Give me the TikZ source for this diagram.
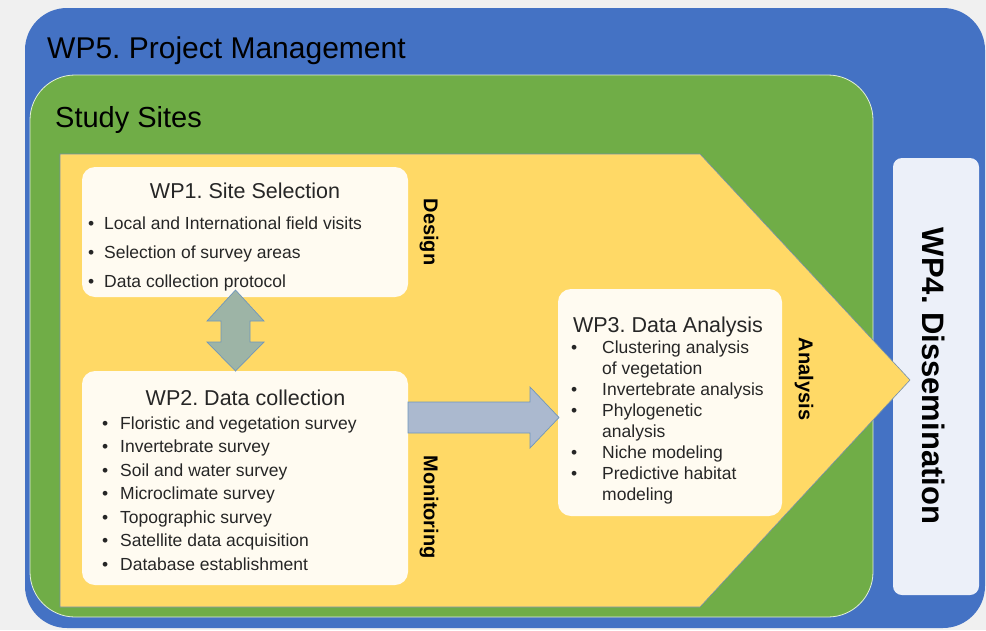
\documentclass[tikz,border=0pt]{standalone}
\usepackage{fontspec}
\setmainfont{Liberation Sans}
\frenchspacing
\definecolor{bgc}{HTML}{F0F0F0}
\definecolor{wpblue}{HTML}{4472C4}
\definecolor{wpgreen}{HTML}{70AD47}
\definecolor{wpyellow}{HTML}{FFD966}
\definecolor{boxfill}{HTML}{FFFBF1}
\definecolor{wp4fill}{HTML}{ECF0F9}
\definecolor{txt}{HTML}{262626}
\definecolor{dblfill}{HTML}{9DB4A6}
\definecolor{rarfill}{HTML}{ABB9CF}
\definecolor{arline}{HTML}{6F96BC}
\begin{document}
\begin{tikzpicture}[x=1pt,y=-1pt,
  wpbox/.style={draw=none,fill=boxfill,rounded corners=13},
  title/.style={font=\fontsize{21.5}{24}\selectfont,text=txt,inner sep=0,anchor=base},
  item/.style={font=\fontsize{17.5}{20}\selectfont,text=txt,inner sep=0,anchor=base west},
  vlabel/.style={font=\bfseries\fontsize{20}{24}\selectfont,rotate=-90,inner sep=0}]
\frenchspacing
\useasboundingbox (0,0) rectangle (986,630);
\fill[bgc] (0,0) rectangle (986,630);
% containers
\draw[fill=wpblue,draw=none,rounded corners=42] (25,8) rectangle (985,628);
\node[fill=wp4fill,rounded corners=9,minimum width=86,minimum height=437] (b4) at (936,376.5) {};
\draw[fill=wpgreen,draw=white!80!wpgreen,line width=0.8pt,rounded corners=45] (30,75) rectangle (873,617);
\draw[fill=wpyellow,draw=arline!70!gray,line width=0.6pt] (60,154) -- (700,154) -- (910,380) -- (700,607) -- (60,607) -- cycle;
\node[font=\fontsize{30}{34}\selectfont,anchor=base west,inner sep=0] (wp5) at (47,58) {WP5. Project Management};
\node[font=\fontsize{29}{33}\selectfont,anchor=base west,inner sep=0] (ss) at (55,127) {Study Sites};
% boxes
\node[wpbox,minimum width=326,minimum height=130] (b1) at (245,232) {};
\node[wpbox,minimum width=326,minimum height=214] (b2) at (245,478) {};
\node[wpbox,minimum width=224,minimum height=227] (b3) at (670,402.5) {};
% block arrows
\draw[fill=dblfill,draw=arline,line width=0.7pt,line join=miter]
  (235.5,290) -- (264,321) -- (250,321) -- (250,342) -- (264,342) -- (235.5,371)
  -- (207,342) -- (221,342) -- (221,321) -- (207,321) -- cycle;
\draw[fill=rarfill,draw=arline,line width=0.7pt]
  (408,402) -- (530,402) -- (530,387) -- (559,417.5) -- (530,448) -- (530,433) -- (408,433) -- cycle;
% WP1
\node[title] (t1) at (245,198) {WP1. Site Selection};
\foreach \t [count=\i] in {Local and International field visits,Selection of survey areas,Data collection protocol}
  \node[item] (i1\i) at (88,{229+29*(\i-1)}) {\makebox[16pt][l]{\textbullet}\t};
% WP2
\node[title] (t2) at (245.5,405) {WP2. Data collection};
\foreach \t [count=\i] in {Floristic and vegetation survey,Invertebrate survey,Soil and water survey,Microclimate survey,Topographic survey,Satellite data acquisition,Database establishment}
  \node[item] (i2\i) at (102,{429+23.5*(\i-1)}) {\makebox[18pt][l]{\textbullet}\t};
% WP3
\node[title] (t3) at (668,332) {WP3. Data Analysis};
\node[item] (i31) at (571,353) {\makebox[31pt][l]{\textbullet}Clustering analysis};
\node[item] (i32) at (602,374) {of vegetation};
\node[item] (i33) at (571,395) {\makebox[31pt][l]{\textbullet}Invertebrate analysis};
\node[item] (i34) at (571,416) {\makebox[31pt][l]{\textbullet}Phylogenetic};
\node[item] (i35) at (602,437) {analysis};
\node[item] (i36) at (571,458.5) {\makebox[31pt][l]{\textbullet}Niche modeling};
\node[item] (i37) at (571,479.5) {\makebox[31pt][l]{\textbullet}Predictive habitat};
\node[item] (i38) at (602,500.5) {modeling};
% vertical labels
\node[vlabel] (des) at (429,232) {Design};
\node[vlabel] (mon) at (429,507) {Monitoring};
\node[vlabel] (ana) at (804,379) {Analysis};
\node[font=\bfseries\fontsize{31}{36}\selectfont,rotate=-90,inner sep=0] (wp4) at (934,376) {WP4. Dissemination};
\end{tikzpicture}
\end{document}
